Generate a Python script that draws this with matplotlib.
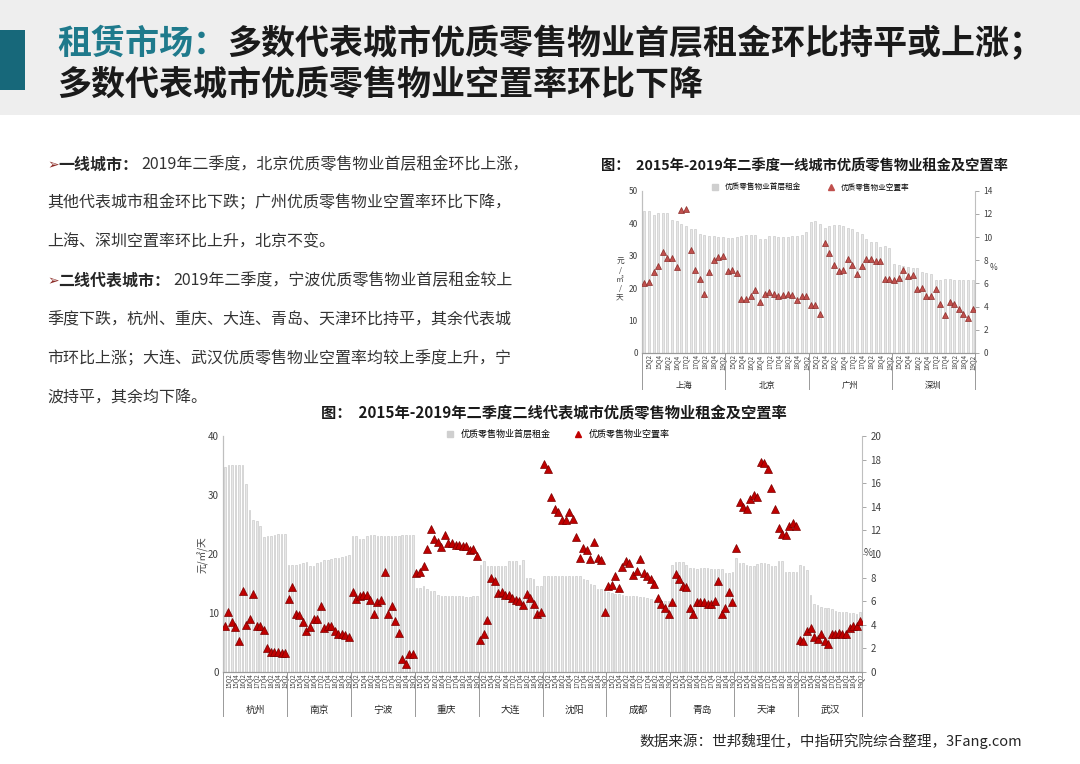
import matplotlib
matplotlib.use("Agg")
import matplotlib.pyplot as plt
import numpy as np
from matplotlib.lines import Line2D
from matplotlib.patches import Rectangle

plt.rcParams['font.family'] = ['Noto Sans CJK SC', 'DejaVu Sans']

##quarters, same for every city
quarters = ['15Q1', '15Q2', '15Q3', '15Q4', '16Q1', '16Q2', '16Q3', '16Q4', '17Q1',
            '17Q2', '17Q3', '17Q4', '18Q1', '18Q2', '18Q3', '18Q4', '19Q1', '19Q2']

##first tier cities
t1_cities = ['上海', '北京', '广州', '深圳']
t1_rent = [
    [43.7, 43.9, 42.4, 43.0, 43.1, 43.0, 40.9, 40.8, 39.6, 39.2, 38.2, 38.2, 36.7, 36.4, 35.9, 35.9, 35.7, 35.7],
    [35.3, 35.5, 35.6, 35.9, 36.4, 36.4, 36.2, 35.0, 35.0, 36.0, 36.1, 35.6, 35.6, 35.8, 36.0, 36.0, 36.3, 37.3],
    [40.5, 40.6, 39.8, 38.4, 39.0, 39.4, 39.4, 39.2, 38.4, 38.2, 37.3, 36.7, 35.0, 34.3, 34.3, 32.6, 33.0, 32.5],
    [27.3, 27.0, 26.9, 26.5, 26.3, 26.3, 25.1, 24.6, 24.2, 22.6, 22.6, 22.8, 22.9, 22.5, 22.5, 22.6, 22.6, 22.6],
]
t1_vac = [
    [6.0, 6.1, 7.0, 7.5, 8.7, 8.2, 8.2, 7.4, 12.3, 12.4, 8.9, 7.2, 6.4, 5.1, 7.0, 8.0, 8.3, 8.4],
    [7.1, 7.2, 6.9, 4.7, 4.7, 4.9, 5.4, 4.4, 5.1, 5.3, 5.1, 4.9, 5.0, 5.1, 5.0, 4.6, 4.9, 4.9],
    [4.1, 4.1, 3.4, 9.5, 8.6, 7.6, 7.1, 7.2, 8.1, 7.6, 6.8, 7.5, 8.1, 8.1, 7.9, 7.9, 6.4, 6.4],
    [6.3, 6.5, 7.2, 6.6, 6.7, 5.5, 5.6, 4.9, 4.9, 5.5, 4.2, 3.3, 4.4, 4.2, 3.8, 3.4, 3.0, 3.8],
]

##second tier cities
t2_cities = ['杭州', '南京', '宁波', '重庆', '大连', '沈阳', '成都', '青岛', '天津', '武汉']
t2_rent = [
    [34.8, 35.0, 35.0, 35.0, 35.0, 35.0, 31.8, 27.4, 25.8, 25.6, 24.7, 22.9, 23.0, 23.0, 23.3, 23.4, 23.4, 23.4],
    [18.1, 18.2, 18.2, 18.3, 18.4, 18.6, 18.0, 17.9, 18.5, 18.7, 18.9, 19.0, 19.1, 19.3, 19.4, 19.5, 19.7, 19.8],
    [23.0, 23.0, 22.5, 22.6, 23.0, 23.3, 23.2, 23.0, 23.0, 23.0, 23.0, 23.0, 23.0, 23.0, 23.2, 23.2, 23.2, 23.2],
    [14.2, 14.3, 14.5, 14.0, 13.8, 13.7, 13.0, 12.8, 12.8, 12.8, 12.9, 12.8, 12.8, 12.8, 12.7, 12.7, 12.8, 12.8],
    [18.2, 18.8, 18.0, 18.0, 18.0, 18.0, 18.0, 18.0, 18.8, 18.8, 18.8, 18.1, 19.0, 15.9, 15.9, 15.8, 14.5, 14.5],
    [16.2, 16.2, 16.2, 16.3, 16.3, 16.3, 16.3, 16.3, 16.3, 16.2, 16.2, 15.8, 15.6, 15.0, 14.8, 14.1, 14.0, 14.1],
    [13.6, 13.4, 13.3, 13.2, 13.0, 12.9, 12.9, 12.8, 12.8, 12.7, 12.7, 12.5, 12.3, 12.2, 12.1, 12.1, 12.1, 12.0],
    [18.2, 18.6, 18.7, 18.6, 18.2, 17.7, 17.6, 17.5, 17.6, 17.6, 17.6, 17.5, 17.5, 17.5, 17.5, 16.8, 16.8, 16.9],
    [19.3, 18.4, 18.4, 18.1, 17.9, 17.9, 18.3, 18.4, 18.4, 18.3, 17.9, 17.9, 18.8, 18.8, 16.9, 16.9, 17.0, 17.0],
    [18.2, 17.9, 17.3, 13.1, 11.5, 11.3, 11.0, 10.9, 10.9, 10.6, 10.3, 10.1, 10.1, 10.1, 10.0, 10.0, 9.9, 10.1],
]
t2_vac = [
    [3.9, 5.1, 4.2, 3.8, 2.6, 6.9, 4.0, 4.5, 6.6, 3.9, 3.9, 3.6, 2.0, 1.7, 1.7, 1.7, 1.6, 1.6],
    [6.2, 7.2, 4.9, 4.8, 4.2, 3.5, 3.8, 4.5, 4.5, 5.6, 3.7, 3.9, 3.9, 3.5, 3.2, 3.2, 3.1, 3.0],
    [6.8, 6.2, 6.4, 6.5, 6.5, 6.1, 4.9, 5.9, 6.1, 8.5, 4.9, 5.6, 4.3, 3.3, 1.1, 0.7, 1.5, 1.5],
    [8.4, 8.5, 9.0, 10.4, 12.1, 11.3, 11.0, 10.6, 11.6, 10.9, 10.9, 10.8, 10.8, 10.7, 10.7, 10.3, 10.4, 9.8],
    [2.7, 3.2, 4.4, 8.0, 7.7, 6.7, 6.8, 6.5, 6.5, 6.3, 6.1, 6.0, 5.7, 6.6, 6.3, 5.8, 4.9, 5.1],
    [17.6, 17.2, 14.8, 13.8, 13.6, 12.9, 12.9, 13.6, 13.0, 11.4, 9.7, 10.5, 10.3, 9.6, 11.0, 9.7, 9.5, 5.1],
    [7.3, 7.4, 8.1, 7.1, 8.9, 9.4, 9.2, 8.2, 8.6, 9.6, 8.4, 8.1, 7.9, 7.5, 6.3, 5.8, 5.4, 4.9],
    [5.9, 8.3, 7.9, 7.3, 7.2, 5.4, 4.9, 5.9, 5.9, 5.9, 5.8, 5.8, 6.0, 7.7, 4.9, 5.4, 6.8, 5.9],
    [10.5, 14.4, 14.0, 13.8, 14.7, 15.0, 14.8, 17.8, 17.7, 17.2, 15.6, 13.8, 12.2, 11.7, 11.6, 12.4, 12.6, 12.4],
    [2.7, 2.6, 3.5, 3.7, 3.0, 2.8, 3.2, 2.6, 2.4, 3.2, 3.2, 3.3, 3.2, 3.2, 3.7, 3.9, 3.9, 4.3],
]

left_text = [
    ('一线城市：', '2019年二季度，北京优质零售物业首层租金环比上涨，'),
    ('', '其他代表城市租金环比下跌；广州优质零售物业空置率环比下降，'),
    ('', '上海、深圳空置率环比上升，北京不变。'),
    ('二线代表城市：', '2019年二季度，宁波优质零售物业首层租金较上'),
    ('', '季度下跌，杭州、重庆、大连、青岛、天津环比持平，其余代表城'),
    ('', '市环比上涨；大连、武汉优质零售物业空置率均较上季度上升，宁'),
    ('', '波持平，其余均下降。'),
]

W, H = 1080, 764
fig = plt.figure(figsize=(W / 100, H / 100), dpi=100)
fig.patch.set_facecolor('white')

def fx(px):
    return px / W

def fy(py):
    return 1 - py / H

##header band
fig.patches.append(Rectangle((0, fy(115)), 1, 115 / H, transform=fig.transFigure,
                             facecolor='#eeeeee', edgecolor='none', zorder=0))
fig.patches.append(Rectangle((0, fy(90)), fx(25), 60 / H, transform=fig.transFigure,
                             facecolor='#17687a', edgecolor='none', zorder=1))

renderer = fig.canvas.get_renderer()
t = fig.text(fx(57), fy(43), '租赁市场：', fontsize=24.5, fontweight='bold',
             color='#1f7a8c', va='center')
bb = t.get_window_extent(renderer=renderer)
fig.text(bb.x1 / W, fy(43), '多数代表城市优质零售物业首层租金环比持平或上涨；', fontsize=24.5,
         fontweight='bold', color='#1a1a1a', va='center')
fig.text(fx(57), fy(84), '多数代表城市优质零售物业空置率环比下降', fontsize=24.5,
         fontweight='bold', color='#1a1a1a', va='center')

##left text block
line_y = [165, 203, 242, 281, 320, 359, 398]
for (bold, normal), ly in zip(left_text, line_y):
    x = fx(47)
    if bold:
        b = fig.text(x, fy(ly), '➢', fontsize=10, color='#8c2b26', va='center',
                     family=['DejaVu Sans'])
        x = b.get_window_extent(renderer=renderer).x1 / W
        b2 = fig.text(x, fy(ly), bold, fontsize=11.5, fontweight='bold', color='#262626', va='center')
        x = b2.get_window_extent(renderer=renderer).x1 / W + fx(3)
    fig.text(x, fy(ly), normal, fontsize=11.5, color='#333333', va='center')

fig.text(fx(1022), fy(741), '数据来源：世邦魏理仕，中指研究院综合整理，3Fang.com',
         fontsize=10.5, color='#262626', ha='right', va='center')

bar_face = '#e6e6e6'
bar_edge = '#c2c2c2'

def draw_chart(rect, cities, rent, vac, ymax, ymax2, step2, tri_color, tri_edge, ms,
               tick_fs, label_step, name_y, sep_y, name_fs, lab_fs):
    ax = fig.add_axes(rect)
    ax2 = ax.twinx()
    n = len(quarters)
    xs, r_all, v_all, labels = [], [], [], []
    for i in range(len(cities)):
        for j in range(n):
            xs.append(i * n + j)
            labels.append(quarters[j])
        r_all += rent[i]
        v_all += vac[i]
    xs = np.array(xs)
    ax.bar(xs, r_all, width=0.45, color=bar_face, edgecolor=bar_edge, linewidth=0.4, zorder=1)
    ax2.plot(xs, v_all, linestyle='none', marker='^', ms=ms, color=tri_color,
             markeredgecolor=tri_edge, markeredgewidth=0.5, zorder=3)
    ax.set_xlim(-0.5, len(xs) - 0.5)
    ax.set_ylim(0, ymax)
    ax2.set_ylim(0, ymax2)
    ax.set_yticks(np.arange(0, ymax + 1, 10))
    ax2.set_yticks(np.arange(0, ymax2 + 0.1, step2))
    tick_pos = [x for x in xs if (x % n) % label_step == (label_step - 1)]
    ax.set_xticks(tick_pos)
    ax.set_xticklabels([labels[x] for x in tick_pos], rotation=90, fontsize=lab_fs,
                       color='#404040')
    ax.tick_params(axis='x', length=0, pad=1)
    ax.tick_params(axis='y', labelsize=tick_fs, colors='#404040', length=0, pad=3)
    ax2.tick_params(axis='y', labelsize=tick_fs, colors='#404040', length=3, width=0.6,
                    color='#999999', pad=3)
    for a in (ax, ax2):
        a.spines['top'].set_visible(False)
        a.spines['left'].set_color('#bfbfbf')
        a.spines['bottom'].set_color('#999999')
        a.spines['right'].set_color('#bfbfbf')
        a.patch.set_alpha(0)
    ax.spines['right'].set_visible(False)
    ax2.set_zorder(ax.get_zorder() + 1)
    ##separators and city names under the axis
    tr = ax.get_xaxis_transform()
    for i in range(len(cities) + 1):
        ax.plot([i * n - 0.5, i * n - 0.5], [0, sep_y], transform=tr, color='#999999',
                lw=0.7, clip_on=False)
    for i, c in enumerate(cities):
        ax.text(i * n + (n - 1) / 2, name_y, c, transform=tr, ha='center', va='center',
                fontsize=name_fs, color='#262626')
    return ax, ax2

##top chart
axt, axt2 = draw_chart([fx(642), fy(353), fx(975) - fx(642), fy(190.7) - fy(353)],
                       t1_cities, t1_rent, t1_vac, 50, 14, 2, '#c0504d', '#8c2d2a', 5,
                       6, 2, -0.2, -0.22, 6, 4.5)
fig.text(fx(804), fy(166), '图：  2015年-2019年二季度一线城市优质零售物业租金及空置率',
         fontsize=10.3, fontweight='bold', color='#1a1a1a', ha='center', va='center')
fig.text(fx(620), fy(280), '元\n/\n㎡\n/\n天', fontsize=5.5, color='#404040', ha='center',
         va='center', linespacing=1.2)
fig.text(fx(993), fy(268), '%', fontsize=6, color='#404040', ha='center', va='center')
h1 = [Line2D([], [], linestyle='none', marker='s', ms=4, color='#cfcfcf'),
      Line2D([], [], linestyle='none', marker='^', ms=4, color='#c0504d')]
axt.legend(h1, ['优质零售物业首层租金', '优质零售物业空置率'], ncol=2, frameon=False,
           loc='lower center', bbox_to_anchor=(0.5, 0.97), fontsize=5.5, handletextpad=0.2,
           columnspacing=3, borderpad=0)

##bottom chart
axb, axb2 = draw_chart([fx(223), fy(672), fx(862) - fx(223), fy(436) - fy(672)],
                       t2_cities, t2_rent, t2_vac, 40, 20, 2, '#c00000', '#7a0000', 5.5,
                       7, 2, -0.16, -0.185, 7, 4.4)
fig.text(fx(554), fy(413), '图：  2015年-2019年二季度二线代表城市优质零售物业租金及空置率',
         fontsize=11, fontweight='bold', color='#1a1a1a', ha='center', va='center')
fig.text(fx(203), fy(555), '元/㎡/天', fontsize=7, color='#404040', ha='center',
         va='center', rotation=90)
fig.text(fx(868), fy(553), '%', fontsize=7, color='#404040', ha='center', va='center')
h2 = [Line2D([], [], linestyle='none', marker='s', ms=4.5, color='#cfcfcf'),
      Line2D([], [], linestyle='none', marker='^', ms=5, color='#c00000')]
axb.legend(h2, ['优质零售物业首层租金', '优质零售物业空置率'], ncol=2, frameon=False,
           loc='upper center', bbox_to_anchor=(0.52, 1.045), fontsize=6.5, handletextpad=0.2,
           columnspacing=2, borderpad=0)

fig.savefig('out.png', dpi=100)
